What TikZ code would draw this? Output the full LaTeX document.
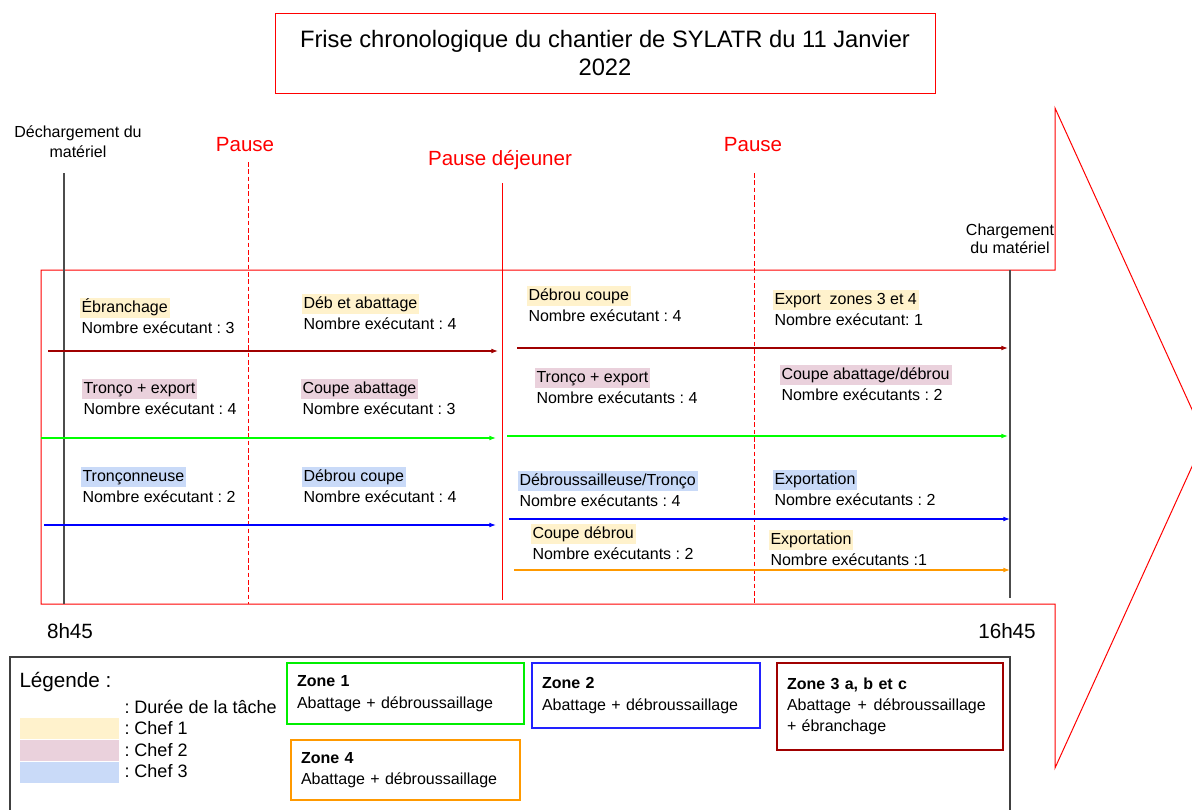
\documentclass[tikz,border=0pt]{standalone}
\usepackage{fontspec}
\setmainfont{Liberation Sans}
\usetikzlibrary{arrows.meta}
\usetikzlibrary{positioning}
\frenchspacing

\definecolor{chefA}{HTML}{FFF2CC}
\definecolor{chefB}{HTML}{EAD1DC}
\definecolor{chefC}{HTML}{C9DAF8}
\definecolor{zoneA}{HTML}{00EE00}
\definecolor{zoneB}{HTML}{2222FF}
\definecolor{zoneC}{HTML}{A00000}
\definecolor{zoneD}{HTML}{FF9900}

\begin{document}
\begin{tikzpicture}[x=0.75pt,y=-0.75pt,line width=0.75pt,
			>={Latex[length=5pt,width=3.6pt]}]
			\tikzset{
				tache/.style={anchor=west,inner sep=1.5pt,text height=9pt,text depth=3pt,font=\fontsize{12}{14}\selectfont},
				nb/.style={tache},
				pause/.style={text=red,inner sep=0pt,font=\fontsize{15.4}{18}\selectfont},
				heure/.style={inner sep=0pt,font=\fontsize{15.5}{18}\selectfont},
				ligne/.style={->,line width=0.8pt},
				borne/.style={draw=black!70,line width=0.9pt},
				repere/.style={draw=red,dash pattern=on 3.5pt off 2pt},
				zone/.style={draw,line width=0.9pt,align=left,inner xsep=7.5pt,inner ysep=0pt,font=\fontsize{12}{16}\selectfont},
				teinte/.style={inner sep=0pt,minimum width=74.25pt,minimum height=15.75pt},
				cle/.style={anchor=west,inner sep=0pt,font=\fontsize{13.5}{16}\selectfont}
			}
			\useasboundingbox (0,0) rectangle (1192,810);
			\clip (0,0) rectangle (1192,810);
			
			% titre
			\node[draw=red,minimum width=495pt,minimum height=60pt,align=center,
			font=\fontsize{17.8}{21}\selectfont] (titre) at (605,53)
			{Frise chronologique du chantier de SYLATR du 11 Janvier\\2022};
			
			% grande fleche
			\draw[red] (41,270) -- (1055,270) -- (1055,108) -- (1205,438)
			-- (1055,768) -- (1055,604) -- (41,604) -- cycle;
			
			% reperes verticaux
			\coordinate (deb_h) at (64,173);   \coordinate (deb_b) at (64,604);
			\coordinate (p1_h) at (248,162);   \coordinate (p1_b) at (248,604);
			\coordinate (dej_h) at (502,183);  \coordinate (dej_b) at (502,600);
			\coordinate (p2_h) at (754,173);   \coordinate (p2_b) at (754,604);
			\coordinate (fin_h) at (1010,270); \coordinate (fin_b) at (1010,598);
			\draw[borne] (deb_h) -- (deb_b);
			\draw[repere] (p1_h) -- (p1_b);
			\draw[red] (dej_h) -- (dej_b);
			\draw[repere] (p2_h) -- (p2_b);
			\draw[borne] (fin_h) -- (fin_b);
			
			\node[align=center,inner sep=0pt,font=\fontsize{12}{15}\selectfont] (dech) at (78,142) {Déchargement du\\matériel};
			\node[align=center,inner sep=0pt,font=\fontsize{12}{13.5}\selectfont] (charg) at (1010,239) {Chargement\\du matériel};
			\node[pause] (pause1) at (245,145) {Pause};
			\node[pause] (pausedej) at (500,160) {Pause déjeuner};
			\node[pause] (pause2) at (753,145) {Pause};
			\node[heure] (h_deb) at (70,631) {8h45};
			\node[heure] (h_fin) at (1007,631) {16h45};
			
			% taches
			\node[tache,fill=chefA] (t11) at (79,308) {Ébranchage};
			\node[nb,below=0pt of t11.south west,anchor=north west] (n11) {Nombre exécutant : 3};
			\node[tache,fill=chefA] (t12) at (301,304) {Déb et abattage};
			\node[nb,below=0pt of t12.south west,anchor=north west] (n12) {Nombre exécutant : 4};
			\node[tache,fill=chefA] (t13) at (526,296) {Débrou coupe};
			\node[nb,below=0pt of t13.south west,anchor=north west] (n13) {Nombre exécutant : 4};
			\node[tache,fill=chefA] (t14) at (772,300) {Export \ zones 3 et 4};
			\node[nb,below=0pt of t14.south west,anchor=north west] (n14) {Nombre exécutant: 1};
			
			\node[tache,fill=chefB] (t21) at (81,389) {Tronço + export};
			\node[nb,below=0pt of t21.south west,anchor=north west] (n21) {Nombre exécutant : 4};
			\node[tache,fill=chefB] (t22) at (300,389) {Coupe abattage};
			\node[nb,below=0pt of t22.south west,anchor=north west] (n22) {Nombre exécutant : 3};
			\node[tache,fill=chefB] (t23) at (534,378) {Tronço + export};
			\node[nb,below=0pt of t23.south west,anchor=north west] (n23) {Nombre exécutants : 4};
			\node[tache,fill=chefB] (t24) at (779,375) {Coupe abattage/débrou};
			\node[nb,below=0pt of t24.south west,anchor=north west] (n24) {Nombre exécutants : 2};
			
			\node[tache,fill=chefC] (t31) at (80,477) {Tronçonneuse};
			\node[nb,below=0pt of t31.south west,anchor=north west] (n31) {Nombre exécutant : 2};
			\node[tache,fill=chefC] (t32) at (301,477) {Débrou coupe};
			\node[nb,below=0pt of t32.south west,anchor=north west] (n32) {Nombre exécutant : 4};
			\node[tache,fill=chefC] (t33) at (517,481) {Débroussailleuse/Tronço};
			\node[nb,below=0pt of t33.south west,anchor=north west] (n33) {Nombre exécutants : 4};
			\node[tache,fill=chefC] (t34) at (772,480) {Exportation};
			\node[nb,below=0pt of t34.south west,anchor=north west] (n34) {Nombre exécutants : 2};
			
			\node[tache,fill=chefA] (t43) at (530,534) {Coupe débrou};
			\node[nb,below=0pt of t43.south west,anchor=north west] (n43) {Nombre exécutants : 2};
			\node[tache,fill=chefA] (t44) at (768,540) {Exportation};
			\node[nb,below=0pt of t44.south west,anchor=north west] (n44) {Nombre exécutants :1};
			
			% durees
			\coordinate (z3_a) at (48,351);  \coordinate (z3_b) at (498,351);
			\coordinate (z3_c) at (517,348); \coordinate (z3_d) at (1008,348);
			\coordinate (z1_a) at (41,438);  \coordinate (z1_b) at (496,438);
			\coordinate (z1_c) at (507,436); \coordinate (z1_d) at (1008,436);
			\coordinate (z2_a) at (44,525);  \coordinate (z2_b) at (496,525);
			\coordinate (z2_c) at (509,519); \coordinate (z2_d) at (1010,519);
			\coordinate (z4_c) at (514,570); \coordinate (z4_d) at (1010,570);
			\draw[ligne,zoneC] (z3_a) -- (z3_b);
			\draw[ligne,zoneC] (z3_c) -- (z3_d);
			\draw[ligne,green] (z1_a) -- (z1_b);
			\draw[ligne,green] (z1_c) -- (z1_d);
			\draw[ligne,blue] (z2_a) -- (z2_b);
			\draw[ligne,blue] (z2_c) -- (z2_d);
			\draw[ligne,zoneD] (z4_c) -- (z4_d);
			
			% legende
			\draw[black!75,line width=0.9pt] (10,657) rectangle (1010,830);
			\node[anchor=west,inner sep=0pt,font=\fontsize{15.5}{18}\selectfont] (leg) at (19,682) {Légende :};
			\node[cle] (duree) at (124,707) {: Durée de la tâche};
			\node[teinte,fill=chefA] (c1) at (69.5,728.5) {};
			\node[teinte,fill=chefB,below=0pt of c1] (c2) {};
			\node[teinte,fill=chefC,below=0pt of c2] (c3) {};
			\node[cle] (l1) at (124,728) {: Chef 1};
			\node[cle] (l2) at (124,750) {: Chef 2};
			\node[cle] (l3) at (124,771) {: Chef 3};
			
			\node[zone,draw=zoneA,minimum width=177.75pt,minimum height=45.75pt,text width=162.75pt] (zone1) at (405.5,693.5)
			{\textbf{Zone 1}\\Abattage + débroussaillage};
			\node[zone,draw=zoneB,minimum width=171pt,minimum height=48.75pt,text width=156pt] (zone2) at (646,695.5)
			{\textbf{Zone 2}\\Abattage + débroussaillage};
			\node[zone,draw=zoneC,minimum width=169.5pt,minimum height=65.25pt,text width=154.5pt] (zone3) at (890,706.5)
			{\textbf{Zone 3 a, b et c}\\\mbox{Abattage\hspace{5pt}+\hspace{5pt}débroussaillage}\\+ ébranchage};
			\node[zone,draw=zoneD,minimum width=171.75pt,minimum height=45pt,text width=156.75pt] (zone4) at (405.5,770)
			{\textbf{Zone 4}\\Abattage + débroussaillage};
\end{tikzpicture}
\end{document}
